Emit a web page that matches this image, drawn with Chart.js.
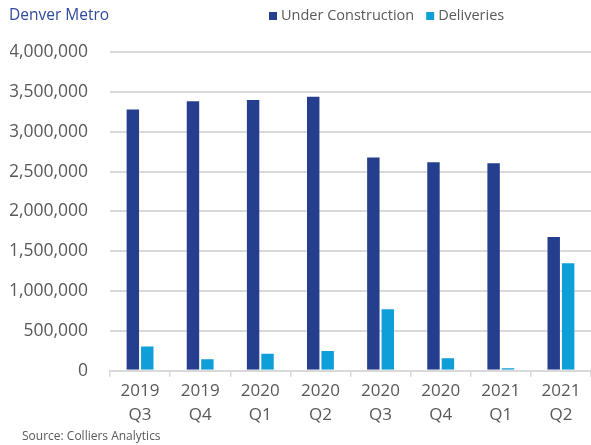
<!DOCTYPE html>
<html>
<head>
<meta charset="utf-8">
<script src="https://cdn.jsdelivr.net/npm/chart.js@4.4.1/dist/chart.umd.min.js"></script>
<style>
  html, body { margin: 0; padding: 0; background: #fff; }
  #wrap { width: 591px; height: 445px; position: relative; }
</style>
</head>
<body>
<div id="wrap"><canvas id="denverChart"></canvas></div>
<script>
// Chart data
const quarters = [['2019', 'Q3'], ['2019', 'Q4'], ['2020', 'Q1'], ['2020', 'Q2'],
                  ['2020', 'Q3'], ['2020', 'Q4'], ['2021', 'Q1'], ['2021', 'Q2']];
const underConstruction = [3290000, 3395000, 3410000, 3450000, 2690000, 2630000, 2615000, 1690000];
const deliveries = [315000, 155000, 225000, 260000, 785000, 170000, 42000, 1360000];
const seriesNames = ['Under Construction', 'Deliveries'];
const chartTitle = 'Denver Metro';
const sourceNote = 'Source: Colliers Analytics';

const darkBlue = '#253F8E';
const lightBlue = '#0E9FD9';
const textGrey = '#595959';
const gridGrey = '#D9D9D9';
const fontFamily = "'Open Sans', sans-serif";

// draws the title, the legend row and the source line
const headerFooter = {
    id: 'headerFooter',
    afterDraw(chart) {
        const ctx = chart.ctx;
        ctx.save();
        ctx.textBaseline = 'middle';
        ctx.textAlign = 'left';

        ctx.font = '15.5px ' + fontFamily;
        ctx.fillStyle = '#2F4A9C';
        ctx.fillText(chartTitle, 9, 16);

        ctx.font = '14.5px ' + fontFamily;
        let x = 269;
        chart.data.datasets.forEach(ds => {
            ctx.fillStyle = ds.backgroundColor;
            ctx.fillRect(x, 12, 8, 8);
            ctx.fillStyle = textGrey;
            ctx.fillText(ds.label, x + 12, 16);
            x += 12 + ctx.measureText(ds.label).width + 12;
        });

        ctx.font = '12px ' + fontFamily;
        ctx.fillStyle = textGrey;
        ctx.fillText(sourceNote, 22, 437);
        ctx.restore();
    }
};

function drawChart() {
    const ctx = document.getElementById('denverChart').getContext('2d');
    new Chart(ctx, {
        type: 'bar',
        data: {
            labels: quarters,
            datasets: [{
                label: seriesNames[0],
                data: underConstruction,
                backgroundColor: darkBlue,
                borderColor: 'rgba(255,255,255,0.3)',
                borderWidth: 1,
                categoryPercentage: 0.48,
                barPercentage: 1
            }, {
                label: seriesNames[1],
                data: deliveries,
                backgroundColor: lightBlue,
                borderColor: 'rgba(255,255,255,0.3)',
                borderWidth: 1,
                categoryPercentage: 0.48,
                barPercentage: 1
            }]
        },
        options: {
            responsive: true,
            maintainAspectRatio: false,
            animation: false,
            layout: { padding: { top: 52, left: 10, right: 0, bottom: 16 } },
            plugins: {
                legend: { display: false },
                tooltip: { enabled: false }
            },
            scales: {
                x: {
                    grid: {
                        display: true,
                        drawOnChartArea: false,
                        drawTicks: true,
                        tickLength: 6,
                        color: gridGrey,
                        lineWidth: 1.5
                    },
                    border: { display: true, color: gridGrey, width: 2 },
                    ticks: {
                        color: textGrey,
                        padding: 2,
                        maxRotation: 0,
                        font: { family: fontFamily, size: 17, lineHeight: 1.42 }
                    }
                },
                y: {
                    min: 0,
                    max: 4000000,
                    // fixed axis width so the plot starts where the reference does
                    afterFit: scale => { scale.width = 100; },
                    grid: {
                        color: gridGrey,
                        lineWidth: 2,
                        drawTicks: false
                    },
                    border: { display: false },
                    ticks: {
                        stepSize: 500000,
                        color: textGrey,
                        padding: 22,
                        font: { family: fontFamily, size: 17.5 },
                        callback: v => v.toLocaleString('en-US')
                    }
                }
            }
        },
        plugins: [headerFooter]
    });
}

// wait for the installed font so labels are measured right
Promise.all([
    document.fonts.load('17px "Open Sans"'),
    document.fonts.load('12px "Open Sans"')
]).then(drawChart, drawChart);
</script>
</body>
</html>
